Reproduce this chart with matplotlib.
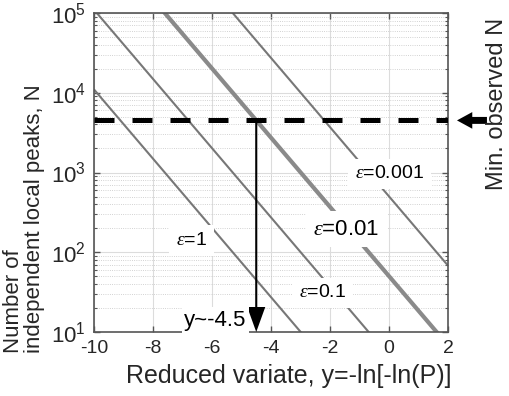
import matplotlib
matplotlib.use("Agg")
import matplotlib.pyplot as plt
from matplotlib.ticker import LogLocator, NullFormatter, FixedLocator

plt.rcParams['font.family'] = ['Liberation Sans', 'DejaVu Sans']
plt.rcParams['mathtext.fontset'] = 'custom'
plt.rcParams['mathtext.rm'] = 'Liberation Sans'
plt.rcParams['mathtext.it'] = 'Liberation Serif:italic'
plt.rcParams['mathtext.fallback'] = 'stix'

# ---- data ----
epsilons = [1, 0.1, 0.01, 0.001]
eps_labels = ["1", "0.1", "0.01", "0.001"]
y_start = -10.0
y_end = 2.0
N_at_start = [1.1e4, 1.1e5, 1.1e6, 1.1e7]   # N at y = -10
N_at_end = [0.068, 0.68, 6.8, 68.0]         # N at y = 2
N_min_observed = 4500.0
y_read = -4.5

label_x = [-6.7, -2.24, -1.44, 0.02]
label_N = [140, 31, 195, 960]
label_size = [14, 14, 16, 14]

x_ticks = [-10, -8, -6, -4, -2, 0, 2]

fig = plt.figure(figsize=(5.10, 3.96), dpi=100)
ax = fig.add_axes([94/510, 1-332/396, 354/510, 319/396])
ax.set_yscale('log')
ax.set_xlim(-10, 2)
ax.set_ylim(10, 1e5)

# grid
ax.xaxis.set_major_locator(FixedLocator(x_ticks))
ax.yaxis.set_major_locator(LogLocator(base=10, numticks=10))
ax.yaxis.set_minor_locator(LogLocator(base=10, subs=range(2, 10), numticks=20))
ax.yaxis.set_minor_formatter(NullFormatter())
ax.grid(True, which='major', color='#dcdcdc', lw=0.8, ls='-', zorder=0)
ax.grid(True, which='minor', axis='y', color='#c4c4c4', lw=0.6, ls=':', zorder=0)
ax.set_axisbelow(True)

# epsilon lines
for i, eps in enumerate(epsilons):
    thick = (eps == 0.01)
    ax.plot([y_start, y_end], [N_at_start[i], N_at_end[i]],
            color='#8a8a8a' if thick else '#777777',
            lw=3.0 if thick else 1.5, zorder=2, solid_capstyle='butt')

# dashed min observed line
ax.plot([-10, 2], [N_min_observed, N_min_observed], color='black', lw=3.6,
        dashes=(4.0, 3.6), zorder=3, dash_capstyle='butt')

# vertical arrow
ax.annotate('', xy=(y_read, 10), xytext=(y_read, N_min_observed),
            arrowprops=dict(arrowstyle='simple,head_length=1.8,head_width=1.3,tail_width=0.15',
                            fc='black', ec='black', lw=0, shrinkA=0, shrinkB=0,
                            mutation_scale=10),
            zorder=4, annotation_clip=False)

# labels
for i, eps in enumerate(epsilons):
    ax.text(label_x[i], label_N[i], r'$\epsilon$=' + eps_labels[i],
            fontsize=label_size[i], ha='center', va='center', zorder=5,
            bbox=dict(boxstyle='square,pad=0.35', fc='white', ec='none'))

ax.text(-4.83, 14.1, 'y~-4.5', fontsize=16, ha='right', va='center', zorder=5,
        bbox=dict(boxstyle='square,pad=0.1', fc='white', ec='none'))

# right arrow and text
ax.annotate('', xy=(1.0254, N_min_observed), xycoords=('axes fraction', 'data'),
            xytext=(1.110, N_min_observed), textcoords=('axes fraction', 'data'),
            arrowprops=dict(arrowstyle='simple,head_length=1.1,head_width=1.2,tail_width=0.5',
                            fc='black', ec='black', lw=0, shrinkA=0, shrinkB=0,
                            mutation_scale=10),
            annotation_clip=False)
fig.text(497/510, 1-104/396, 'Min. observed N', rotation=90, fontsize=17,
         ha='center', va='center', color='#262626')

# axes styling
for s in ax.spines.values():
    s.set_color('#555555')
    s.set_linewidth(1.2)
ax.tick_params(which='both', direction='in', top=True, right=True, colors='#555555',
               labelcolor='#262626', labelsize=14)
ax.tick_params(axis='y', which='major', labelsize=16)
ax.tick_params(which='major', length=4, width=1.0, pad=6)
ax.tick_params(which='minor', length=2.5, width=0.8)
ax.set_xticklabels([str(t) for t in x_ticks])

fig.text(289/510, 1-383/396, 'Reduced variate, y=-ln[-ln(P)]', fontsize=18,
         ha='center', va='baseline', color='#262626')
fig.text(24.5/510, 1-353/396, 'Number of\nindependent local peaks, N', fontsize=16,
         rotation=90, ha='center', va='bottom', multialignment='left', color='#262626',
         linespacing=1.0)

fig.savefig('out.png', dpi=100)
